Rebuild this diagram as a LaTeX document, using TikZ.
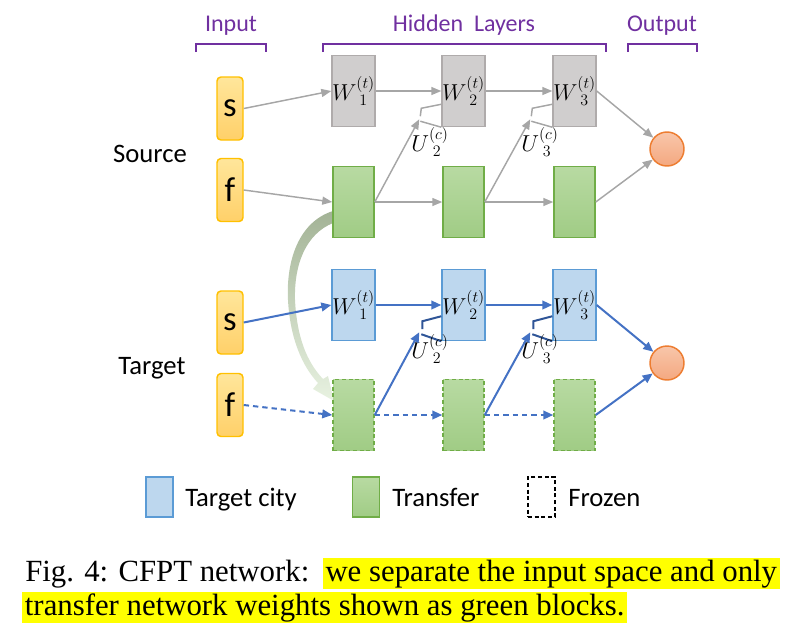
\documentclass[tikz,border=0pt]{standalone}
\usepackage{fontspec}
\setmainfont{Carlito}
\newfontfamily\capfont{Liberation Serif}
\usetikzlibrary{arrows.meta,calc}
\definecolor{purp}{RGB}{112,48,160}
\definecolor{grayarrow}{RGB}{166,166,166}
\definecolor{grayfill}{RGB}{208,206,206}
\definecolor{grayborder}{RGB}{175,171,171}
\definecolor{greenfillA}{RGB}{184,218,162}
\definecolor{greenfillB}{RGB}{160,204,133}
\definecolor{greenborder}{RGB}{112,173,71}
\definecolor{bluefill}{RGB}{189,215,238}
\definecolor{blueborder}{RGB}{91,155,213}
\definecolor{bluearrow}{RGB}{68,114,196}
\definecolor{darkblue}{RGB}{47,85,151}
\definecolor{inA}{RGB}{255,230,155}
\definecolor{inB}{RGB}{255,208,105}
\definecolor{inborder}{RGB}{255,192,0}
\definecolor{outA}{RGB}{248,198,170}
\definecolor{outB}{RGB}{244,168,128}
\definecolor{outborder}{RGB}{237,125,49}
\definecolor{hlyellow}{RGB}{255,255,0}
\definecolor{bandA}{RGB}{163,179,150}
\definecolor{bandM}{RGB}{205,220,195}
\definecolor{bandB}{RGB}{232,242,225}
\newcommand{\scr}[1]{\mbox{\fontsize{12.5}{14}\selectfont$#1$}}
\newcommand{\wlab}[3]{${#1}^{\scr{(#2)}}_{\scr{\hphantom{(}#3}}$}
\tikzset{
  hbox/.style={rectangle, minimum width=30.75pt, minimum height=53.25pt, inner sep=0pt, line width=1.1pt, font=\fontsize{17}{20}\selectfont},
  grayblk/.style={hbox, draw=grayborder, fill=grayfill},
  greenblk/.style={hbox, draw=greenborder, top color=greenfillA, bottom color=greenfillB},
  frozenblk/.style={greenblk, dash pattern=on 3pt off 2pt},
  blueblk/.style={hbox, draw=blueborder, fill=bluefill},
  inbox/.style={rectangle, rounded corners=3pt, minimum width=19.5pt, minimum height=47.25pt, draw=inborder, line width=1.1pt, top color=inA, bottom color=inB, font=\fontsize{26}{30}\selectfont, inner sep=0pt},
  outc/.style={circle, minimum size=25.5pt, inner sep=0pt, draw=outborder, line width=1.1pt, top color=outA, bottom color=outB},
  garr/.style={draw=grayarrow, line width=1.1pt, -{Triangle[length=7.5pt,width=6pt]}},
  barr/.style={draw=bluearrow, line width=1.5pt, -{Triangle[length=7.5pt,width=6.5pt]}},
  bdash/.style={barr, dash pattern=on 4pt off 3pt},
  gtrap/.style={draw=grayarrow, line width=1.1pt},
  btrap/.style={draw=darkblue, line width=1.5pt},
  brk/.style={draw=purp, line width=1.5pt},
  ulab/.style={font=\fontsize{17}{20}\selectfont, inner sep=0pt},
  toplab/.style={font=\fontsize{18}{22}\selectfont, text=purp, anchor=base, inner sep=0pt},
  sidelab/.style={font=\fontsize{20}{24}\selectfont, anchor=base, inner sep=0pt},
  leglab/.style={font=\fontsize{20}{24}\selectfont, anchor=base west, inner sep=0pt},
  legbox/.style={rectangle, minimum width=20.25pt, minimum height=30pt, inner sep=0pt, line width=1.1pt},
  captxt/.style={font=\capfont\fontsize{23.1}{28}\selectfont, inner ysep=0pt, text height=17.5pt, text depth=6pt}
}
\begin{document}
\begin{tikzpicture}[x=0.75pt,y=-0.75pt]
\useasboundingbox (0,0) rectangle (799,637);

% top labels and brackets
\node[toplab] (lin) at (231,31) {Input};
\node[toplab] (lhid) at (464,31) {Hidden~~Layers};
\node[toplab] (lout) at (662,31) {Output};
\draw[brk] (196,52) -- (196,44) -- (266,44) -- (266,52);
\draw[brk] (323,52) -- (323,44) -- (606,44) -- (606,52);
\draw[brk] (628,52) -- (628,44) -- (697,44) -- (697,52);

% side labels
\node[sidelab] (lsrc) at (150,162) {Source};
\node[sidelab] (ltgt) at (152,374) {Target};

% transfer band
\shade[top color=bandA, middle color=bandM, bottom color=bandB]
  (333,211) .. controls (298,222) and (286,262) .. (288,300)
  .. controls (290,338) and (302,366) .. (318,383)
  -- (313,389) -- (334,401) -- (328,376) -- (323,379)
  .. controls (307,362) and (297,338) .. (295,300)
  .. controls (294,264) and (306,234) .. (333,223) -- cycle;

% input boxes
\node[inbox] (sS) at (230,108.5) {s};
\node[inbox] (fS) at (230,190) {f};
\node[inbox] (sT) at (230,322.5) {s};
\node[inbox] (fT) at (230,405) {f};

% source hidden
\node[grayblk] (W1S) at (353.5,91) {\wlab{W}{t}{1}};
\node[grayblk] (W2S) at (463.5,91) {\wlab{W}{t}{2}};
\node[grayblk] (W3S) at (574.5,91) {\wlab{W}{t}{3}};
\node[greenblk] (G1S) at (353.5,202) {};
\node[greenblk] (G2S) at (463.5,202) {};
\node[greenblk] (G3S) at (574.5,202) {};
\node[outc] (OS) at (667,149) {};

% target hidden
\node[blueblk] (W1T) at (353.5,305) {\wlab{W}{t}{1}};
\node[blueblk] (W2T) at (463.5,305) {\wlab{W}{t}{2}};
\node[blueblk] (W3T) at (574.5,305) {\wlab{W}{t}{3}};
\node[frozenblk] (G1T) at (353.5,415) {};
\node[frozenblk] (G2T) at (463.5,415) {};
\node[frozenblk] (G3T) at (574.5,415) {};
\node[outc] (OT) at (667,363) {};

% gates (trapezoids)
\draw[gtrap] ($(W2S.south west)+(0,-23)$) -- ++(-20,4) -- ++(-1,8);
\draw[gtrap] ($(W2S.south west)+(-21,-6)$) -- (W2S.south west);
\draw[gtrap] ($(W3S.south west)+(0,-23)$) -- ++(-20,4) -- ++(-1,8);
\draw[gtrap] ($(W3S.south west)+(-21,-6)$) -- (W3S.south west);
\draw[btrap] ($(W2T.south west)+(0,-25)$) -- ++(-19,5) -- ++(0,8);
\draw[btrap] ($(W2T.south west)+(-20,-7)$) -- (W2T.south west);
\draw[btrap] ($(W3T.south west)+(0,-25)$) -- ++(-19,5) -- ++(0,8);
\draw[btrap] ($(W3T.south west)+(-20,-7)$) -- (W3T.south west);
\coordinate (u2s) at ($(W2S.south west)+(-22,-8)$);
\coordinate (u3s) at ($(W3S.south west)+(-22,-8)$);
\coordinate (u2t) at ($(W2T.south west)+(-22,-9)$);
\coordinate (u3t) at ($(W3T.south west)+(-22,-9)$);

% U labels
\node[ulab] (U2S) at (430,142) {\wlab{U}{c}{2}};
\node[ulab] (U3S) at (540,142) {\wlab{U}{c}{3}};
\node[ulab] (U2T) at (430,349) {\wlab{U}{c}{2}};
\node[ulab] (U3T) at (540,349) {\wlab{U}{c}{3}};

% source connectors
\draw[garr] (sS.east) -- (W1S.west);
\draw[garr] (fS.east) -- (G1S.west);
\draw[garr] (W1S.east) -- (W2S.west);
\draw[garr] (W2S.east) -- (W3S.west);
\draw[garr] (G1S.east) -- (G2S.west);
\draw[garr] (G2S.east) -- (G3S.west);
\draw[garr] (G1S.east) -- (u2s);
\draw[garr] (G2S.east) -- (u3s);
\draw[garr] (W3S.east) -- (OS);
\draw[garr] (G3S.east) -- (OS);

% target connectors
\draw[barr] (sT.east) -- (W1T.west);
\draw[bdash] (fT.east) -- (G1T.west);
\draw[barr] (W1T.east) -- (W2T.west);
\draw[barr] (W2T.east) -- (W3T.west);
\draw[bdash] (G1T.east) -- (G2T.west);
\draw[bdash] (G2T.east) -- (G3T.west);
\draw[barr] (G1T.east) -- (u2t);
\draw[barr] (G2T.east) -- (u3t);
\draw[barr] (W3T.east) -- (OT);
\draw[barr] (G3T.east) -- (OT);

% legend
\node[legbox, draw=blueborder, fill=bluefill] (lgB) at (159.5,497) {};
\node[leglab] (lgBt) at (185,506) {Target city};
\node[legbox, draw=greenborder, top color=greenfillA, bottom color=greenfillB] (lgG) at (366,497) {};
\node[leglab] (lgGt) at (392,506) {Transfer};
\node[legbox, draw=black, fill=white, dash pattern=on 3pt off 2pt] (lgF) at (541.5,497) {};
\node[leglab] (lgFt) at (568,506) {Frozen};

% caption
\node[captxt, anchor=base west, inner xsep=0pt] (cap1) at (25,581) {Fig. 4: CFPT network:};
\node[captxt, anchor=base east, fill=hlyellow, inner xsep=2pt] (cap2) at (780,581) {we separate the input space and only};
\node[captxt, anchor=base west, fill=hlyellow, inner xsep=2pt] (cap3) at (22,615) {transfer network weights shown as green blocks.};
\end{tikzpicture}
\end{document}
